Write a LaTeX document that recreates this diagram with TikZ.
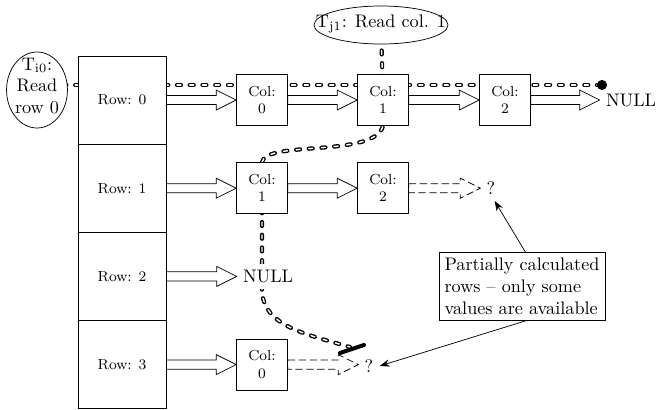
\documentclass[tikz,border=0pt]{standalone}
\usetikzlibrary{calc,shapes.geometric,arrows.meta,backgrounds}
\begin{document}
\begin{tikzpicture}[x=0.55pt,y=-0.55pt,
  rowbox/.style={draw, fill=white, minimum size=48.5pt, inner sep=0pt, font=\footnotesize},
  colbox/.style={draw, fill=white, minimum size=28pt, inner sep=0pt, align=center, font=\footnotesize},
  plaintext/.style={fill=white, inner sep=3.3pt},
  threadell/.style={ellipse, draw, fill=white, inner sep=0pt},
  hollowarrow/.style={to path={let \p1=(\tikztostart), \p2=(\tikztotarget) in
     (\x1,\y1+2.5pt) -- (\x2-11pt,\y1+2.5pt) -- (\x2-11pt,\y1+5.5pt) -- (\x2,\y1)
     -- (\x2-11pt,\y1-5.5pt) -- (\x2-11pt,\y1-2.5pt) -- (\x1,\y1-2.5pt) -- cycle}},
  dasharrow/.style={hollowarrow, dash pattern=on 4pt off 2pt},
  thread/.style={double, line width=0.75pt, double distance=0.8pt, dash pattern=on 2.2pt off 4.8pt, line cap=round},
  notearrow/.style={-{Stealth[length=5.5pt,width=4pt]}}
]
\useasboundingbox (0,0) rectangle (659,410);

% row table
\node[rowbox] (r0) at (122,100) {Row: 0};
\node[rowbox] (r1) at (122,188.2) {Row: 1};
\node[rowbox] (r2) at (122,276.4) {Row: 2};
\node[rowbox] (r3) at (122,364.6) {Row: 3};

% column cells
\node[colbox] (c00) at (262,100) {Col:\\0};
\node[colbox] (c01) at (383,100) {Col:\\1};
\node[colbox] (c02) at (505,100) {Col:\\2};
\node[colbox] (c11) at (262,188.2) {Col:\\1};
\node[colbox] (c12) at (383,188.2) {Col:\\2};
\node[colbox] (c30) at (262,364.6) {Col:\\0};

% ends
\node[plaintext] (n0) at (631,100) {NULL};
\node[plaintext] (n2) at (268,276.4) {NULL};
\node[plaintext] (q1) at (491,188.2) {?};
\node[plaintext] (q3) at (369,366) {?};

% threads
\node[threadell, minimum width=33.5pt, minimum height=41.8pt] (Ti0) at (37,90) {};
\node[inner sep=0pt, align=center] (Ti0txt) at (37,86) {T$_{\mathrm{i0}}$:\\Read\\row 0};
\node[threadell, minimum width=73.7pt, minimum height=20.9pt] (Tj1) at (381,25) {};
\node[inner sep=0pt] (Tj1txt) at (381,24) {T$_{\mathrm{j1}}$: Read col. 1};

\coordinate (T1end) at (602,85);
\coordinate (T2mid) at (262,293);
\coordinate (T2end) at (350,347);
\coordinate (bar1) at (340,353);
\coordinate (bar2) at (364,345);

\begin{scope}[on background layer]
  \draw[thread] (Ti0.center |- T1end) -- (T1end);
  \draw[thread] (Tj1.center) -- (c01.center) -- (c01.south)
     .. controls (375,158) and (265,140) .. (c11.north) -- (c11.center) -- (T2mid)
     .. controls (266,325) and (300,333) .. (T2end);
\end{scope}
\fill (T1end) circle (2.8pt);
\draw[line width=2.2pt, line cap=round] (bar1) -- (bar2);

% pointers
\draw[hollowarrow] (r0.east) to (c00.west);
\draw[hollowarrow] (c00.east) to (c01.west);
\draw[hollowarrow] (c01.east) to (c02.west);
\draw[hollowarrow] (c02.east) to (n0.west);
\draw[hollowarrow] (r1.east) to (c11.west);
\draw[hollowarrow] (c11.east) to (c12.west);
\draw[hollowarrow] (r2.east) to (n2.west);
\draw[hollowarrow] (r3.east) to (c30.west);
\draw[dasharrow] (c12.east) to (q1.west);
\draw[dasharrow] (c30.east) to (q3.west);

% note
\node[draw, fill=white, align=left, inner sep=3pt] (note) at (522,286.5)
  {Partially calculated\\rows -- only some\\values are available};
\draw[notearrow] ([xshift=2pt]note.north) -- ([xshift=2pt]q1.south);
\draw[notearrow] ([xshift=2.5pt]note.south) -- (q3.east);
\end{tikzpicture}
\end{document}
